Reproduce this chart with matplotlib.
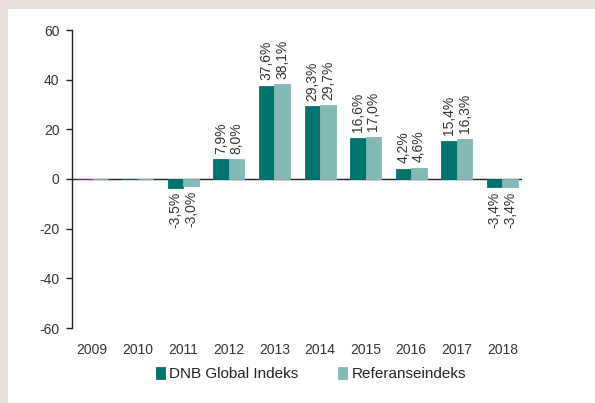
import matplotlib.pyplot as plt
import matplotlib.patches as mpatches
import numpy as np

years = ['2009', '2010', '2011', '2012', '2013', '2014', '2015', '2016', '2017', '2018']
dnb = [0.0, 0.0, -3.5, 7.9, 37.6, 29.3, 16.6, 4.2, 15.4, -3.4]
ref = [0.0, 0.0, -3.0, 8.0, 38.1, 29.7, 17.0, 4.6, 16.3, -3.4]
series_names = ['DNB Global Indeks', 'Referanseindeks']

dark = '#00736e'
light = '#84b9b7'
beige = '#e6dfd8'
txt = '#333333'

plt.rcParams['font.family'] = ['Liberation Sans', 'DejaVu Sans']
plt.rcParams['axes.unicode_minus'] = False

fig = plt.figure(figsize=(5.95, 4.03), dpi=100, facecolor=beige)
# white panel, leaving a beige strip on the left and top
fig.patches.append(mpatches.Rectangle((8 / 595, 0), 1, 1 - 9 / 403,
                                      transform=fig.transFigure,
                                      facecolor='white', edgecolor='none', zorder=-5))

ax = fig.add_axes([72 / 595, 1 - 328 / 403, 450 / 595, 298 / 403])
ax.set_facecolor('none')

x = np.arange(len(years))
w = 0.34
ax.axhline(0, color='#222222', lw=1.0, zorder=1)
# thin edge so the zero-value years still show as a coloured line
b1 = ax.bar(x - w / 2, dnb, w, color=dark, edgecolor=dark, lw=0.6,
            label=series_names[0], zorder=2)
b2 = ax.bar(x + w / 2, ref, w, color=light, edgecolor=light, lw=0.6,
            label=series_names[1], zorder=2)

for bars, vals in ((b1, dnb), (b2, ref)):
    for rect, v in zip(bars, vals):
        if v == 0:
            continue
        lab = f'{v:.1f}%'.replace('.', ',')
        xc = rect.get_x() + rect.get_width() / 2
        if v > 0:
            ax.annotate(lab, (xc, v), xytext=(0, 4), textcoords='offset points',
                        rotation=90, ha='center', va='bottom', fontsize=10, color=txt)
        else:
            ax.annotate(lab, (xc, v), xytext=(0, -3), textcoords='offset points',
                        rotation=90, ha='center', va='top', fontsize=10, color=txt)

ax.set_xlim(-0.44, 9.43)
ax.set_ylim(-60, 60)
ax.set_yticks(range(-60, 61, 20))
ax.set_xticks(x)
ax.set_xticklabels(years)
for s in ('top', 'right', 'bottom'):
    ax.spines[s].set_visible(False)
ax.spines['left'].set_color('#222222')
ax.spines['left'].set_linewidth(1.0)
ax.tick_params(axis='y', length=4, width=1, color='#222222', pad=5,
               labelsize=10, labelcolor=txt)
ax.tick_params(axis='x', length=0, pad=11, labelsize=10, labelcolor=txt)

fig.legend(handles=[b1, b2], loc='center', bbox_to_anchor=(311 / 595, 1 - 374 / 403),
           ncol=2, frameon=False, fontsize=11, handlelength=0.6, handleheight=0.9,
           handletextpad=0.3, columnspacing=2.6, labelcolor='#222222')

fig.savefig('out.png', dpi=100, facecolor=fig.get_facecolor())
